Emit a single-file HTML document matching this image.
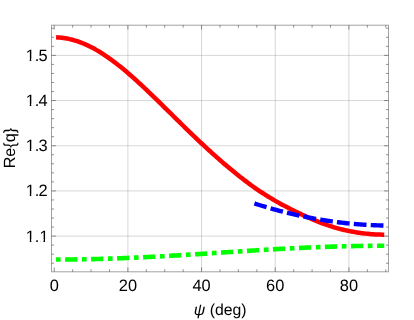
<!DOCTYPE html>
<html><head><meta charset="utf-8"><title>plot</title>
<style>html,body{margin:0;padding:0;background:#fff;width:414px;height:320px;overflow:hidden;font-family:"Liberation Sans",sans-serif;}</style>
</head><body>
<svg width="414" height="320" viewBox="0 0 414 320" style="position:absolute;left:0;top:0;will-change:transform;opacity:0.999">
<rect x="0" y="0" width="414" height="320" fill="#fff"/>
<g stroke="#909090" stroke-width="0.36" fill="none"><line x1="127.90" y1="25.20" x2="127.90" y2="271.80"/><line x1="201.57" y1="25.20" x2="201.57" y2="271.80"/><line x1="275.24" y1="25.20" x2="275.24" y2="271.80"/><line x1="348.91" y1="25.20" x2="348.91" y2="271.80"/><line x1="51.50" y1="236.10" x2="388.50" y2="236.10"/><line x1="51.50" y1="190.92" x2="388.50" y2="190.92"/><line x1="51.50" y1="145.74" x2="388.50" y2="145.74"/><line x1="51.50" y1="100.56" x2="388.50" y2="100.56"/><line x1="51.50" y1="55.38" x2="388.50" y2="55.38"/></g>
<path d="M56.07,37.37 L57.90,37.44 L59.72,37.56 L61.54,37.74 L63.37,37.96 L65.19,38.23 L67.01,38.55 L68.84,38.91 L70.66,39.33 L72.48,39.79 L74.31,40.30 L76.13,40.86 L77.95,41.46 L79.78,42.10 L81.60,42.80 L83.42,43.53 L85.25,44.31 L87.07,45.14 L88.89,46.00 L90.72,46.91 L92.54,47.86 L94.36,48.84 L96.19,49.87 L98.01,50.93 L99.83,52.04 L101.66,53.18 L103.48,54.35 L105.30,55.56 L107.13,56.80 L108.95,58.08 L110.77,59.38 L112.60,60.72 L114.42,62.09 L116.24,63.48 L118.07,64.91 L119.89,66.36 L121.71,67.83 L123.54,69.33 L125.36,70.85 L127.18,72.40 L129.01,73.97 L130.83,75.56 L132.65,77.16 L134.48,78.79 L136.30,80.43 L138.12,82.09 L139.95,83.77 L141.77,85.46 L143.59,87.16 L145.42,88.88 L147.24,90.61 L149.06,92.34 L150.89,94.09 L152.71,95.85 L154.53,97.61 L156.36,99.38 L158.18,101.16 L160.00,102.95 L161.83,104.73 L163.65,106.53 L165.47,108.32 L167.30,110.12 L169.12,111.91 L170.94,113.71 L172.77,115.51 L174.59,117.31 L176.41,119.10 L178.24,120.90 L180.06,122.69 L181.88,124.48 L183.71,126.26 L185.53,128.04 L187.35,129.81 L189.18,131.58 L191.00,133.34 L192.82,135.10 L194.65,136.84 L196.47,138.58 L198.29,140.31 L200.12,142.04 L201.94,143.75 L203.76,145.45 L205.59,147.14 L207.41,148.83 L209.23,150.50 L211.06,152.16 L212.88,153.80 L214.70,155.44 L216.53,157.06 L218.35,158.68 L220.17,160.27 L222.00,161.86 L223.82,163.43 L225.64,164.99 L227.47,166.53 L229.29,168.06 L231.11,169.57 L232.94,171.07 L234.76,172.55 L236.58,174.02 L238.41,175.48 L240.23,176.91 L242.05,178.34 L243.87,179.74 L245.70,181.13 L247.52,182.50 L249.34,183.86 L251.17,185.20 L252.99,186.52 L254.81,187.81 L256.64,189.08 L258.46,190.33 L260.28,191.55 L262.11,192.75 L263.93,193.93 L265.75,195.09 L267.58,196.23 L269.40,197.34 L271.22,198.44 L273.05,199.52 L274.87,200.58 L276.69,201.62 L278.52,202.65 L280.34,203.66 L282.16,204.66 L283.99,205.64 L285.81,206.61 L287.63,207.56 L289.46,208.50 L291.28,209.43 L293.10,210.34 L294.93,211.25 L296.75,212.14 L298.57,213.02 L300.40,213.89 L302.22,214.75 L304.04,215.59 L305.87,216.42 L307.69,217.24 L309.51,218.05 L311.34,218.84 L313.16,219.62 L314.98,220.39 L316.81,221.13 L318.63,221.87 L320.45,222.58 L322.28,223.28 L324.10,223.95 L325.92,224.61 L327.75,225.25 L329.57,225.87 L331.39,226.46 L333.22,227.04 L335.04,227.58 L336.86,228.11 L338.69,228.61 L340.51,229.09 L342.33,229.55 L344.16,229.98 L345.98,230.38 L347.80,230.77 L349.63,231.14 L351.45,231.49 L353.27,231.82 L355.10,232.13 L356.92,232.43 L358.74,232.70 L360.57,232.96 L362.39,233.21 L364.21,233.43 L366.04,233.63 L367.86,233.82 L369.68,233.99 L371.51,234.14 L373.33,234.27 L375.15,234.39 L376.98,234.48 L378.80,234.56 L380.62,234.62 L382.45,234.66 L384.27,234.68" fill="none" stroke="#ff0000" stroke-width="4.5" stroke-linecap="butt" stroke-linejoin="round"/>
<path d="M254.40,203.45 L256.02,203.97 L257.63,204.48 L259.25,204.99 L260.87,205.49 L262.48,205.98 L264.10,206.47 L265.71,206.95 L267.33,207.43 L268.95,207.90 L270.56,208.36 L272.18,208.82 L273.80,209.27 L275.41,209.71 L277.03,210.15 L278.64,210.59 L280.26,211.01 L281.88,211.43 L283.49,211.85 L285.11,212.25 L286.73,212.66 L288.34,213.05 L289.96,213.44 L291.57,213.82 L293.19,214.20 L294.81,214.57 L296.42,214.94 L298.04,215.30 L299.65,215.65 L301.27,216.00 L302.89,216.34 L304.50,216.67 L306.12,217.00 L307.74,217.32 L309.35,217.64 L310.97,217.95 L312.58,218.25 L314.20,218.55 L315.82,218.84 L317.43,219.12 L319.05,219.40 L320.67,219.67 L322.28,219.94 L323.90,220.20 L325.51,220.46 L327.13,220.70 L328.75,220.95 L330.36,221.18 L331.98,221.41 L333.60,221.63 L335.21,221.85 L336.83,222.06 L338.44,222.27 L340.06,222.47 L341.68,222.66 L343.29,222.85 L344.91,223.03 L346.53,223.20 L348.14,223.37 L349.76,223.53 L351.38,223.69 L352.99,223.84 L354.61,223.98 L356.22,224.12 L357.84,224.25 L359.46,224.37 L361.07,224.49 L362.69,224.61 L364.31,224.71 L365.92,224.81 L367.54,224.91 L369.15,224.99 L370.77,225.08 L372.39,225.15 L374.00,225.22 L375.62,225.29 L377.24,225.34 L378.85,225.39 L380.47,225.44 L382.08,225.48 L383.70,225.51" fill="none" stroke="#0000ff" stroke-width="4.4" stroke-dasharray="12.75 4.2" stroke-linecap="butt"/>
<path d="M55.92,259.57 L57.75,259.56 L59.57,259.56 L61.40,259.55 L63.22,259.54 L65.05,259.53 L66.87,259.52 L68.69,259.50 L70.52,259.49 L72.34,259.47 L74.17,259.45 L75.99,259.42 L77.81,259.40 L79.64,259.37 L81.46,259.34 L83.29,259.31 L85.11,259.27 L86.93,259.24 L88.76,259.20 L90.58,259.16 L92.41,259.12 L94.23,259.08 L96.06,259.03 L97.88,258.99 L99.70,258.94 L101.53,258.89 L103.35,258.83 L105.18,258.78 L107.00,258.72 L108.82,258.66 L110.65,258.60 L112.47,258.54 L114.30,258.48 L116.12,258.41 L117.95,258.35 L119.77,258.28 L121.59,258.21 L123.42,258.14 L125.24,258.06 L127.07,257.99 L128.89,257.91 L130.71,257.83 L132.54,257.75 L134.36,257.67 L136.19,257.59 L138.01,257.50 L139.84,257.42 L141.66,257.33 L143.48,257.24 L145.31,257.15 L147.13,257.06 L148.96,256.97 L150.78,256.87 L152.60,256.78 L154.43,256.68 L156.25,256.58 L158.08,256.48 L159.90,256.38 L161.73,256.28 L163.55,256.18 L165.37,256.08 L167.20,255.97 L169.02,255.87 L170.85,255.76 L172.67,255.66 L174.49,255.55 L176.32,255.44 L178.14,255.33 L179.97,255.22 L181.79,255.11 L183.61,254.99 L185.44,254.88 L187.26,254.77 L189.09,254.65 L190.91,254.54 L192.74,254.42 L194.56,254.31 L196.38,254.19 L198.21,254.08 L200.03,253.96 L201.86,253.84 L203.68,253.72 L205.50,253.61 L207.33,253.49 L209.15,253.37 L210.98,253.25 L212.80,253.13 L214.63,253.01 L216.45,252.89 L218.27,252.77 L220.10,252.65 L221.92,252.53 L223.75,252.41 L225.57,252.30 L227.39,252.18 L229.22,252.06 L231.04,251.94 L232.87,251.82 L234.69,251.70 L236.52,251.58 L238.34,251.47 L240.16,251.35 L241.99,251.23 L243.81,251.11 L245.64,251.00 L247.46,250.88 L249.28,250.77 L251.11,250.65 L252.93,250.54 L254.76,250.43 L256.58,250.31 L258.41,250.20 L260.23,250.09 L262.05,249.98 L263.88,249.87 L265.70,249.76 L267.53,249.65 L269.35,249.55 L271.17,249.44 L273.00,249.33 L274.82,249.23 L276.65,249.13 L278.47,249.02 L280.29,248.92 L282.12,248.82 L283.94,248.73 L285.77,248.63 L287.59,248.53 L289.42,248.44 L291.24,248.34 L293.06,248.25 L294.89,248.16 L296.71,248.07 L298.54,247.98 L300.36,247.89 L302.18,247.81 L304.01,247.72 L305.83,247.64 L307.66,247.56 L309.48,247.48 L311.31,247.40 L313.13,247.32 L314.95,247.25 L316.78,247.18 L318.60,247.10 L320.43,247.03 L322.25,246.97 L324.07,246.90 L325.90,246.83 L327.72,246.77 L329.55,246.71 L331.37,246.65 L333.20,246.59 L335.02,246.54 L336.84,246.48 L338.67,246.43 L340.49,246.38 L342.32,246.33 L344.14,246.28 L345.96,246.24 L347.79,246.19 L349.61,246.15 L351.44,246.11 L353.26,246.08 L355.09,246.04 L356.91,246.01 L358.73,245.98 L360.56,245.95 L362.38,245.92 L364.21,245.90 L366.03,245.87 L367.85,245.85 L369.68,245.83 L371.50,245.82 L373.33,245.80 L375.15,245.79 L376.97,245.78 L378.80,245.77 L380.62,245.76 L382.45,245.76 L384.27,245.75" fill="none" stroke="#00ff00" stroke-width="4.6" stroke-dasharray="4.7 4.45 12.3 4.57" stroke-linecap="butt"/>
<rect x="51.50" y="25.20" width="337.00" height="246.60" fill="none" stroke="#a2a2a2" stroke-width="1"/>
<g stroke="#484848" stroke-width="0.6" fill="none"><line x1="54.23" y1="271.80" x2="54.23" y2="267.40"/><line x1="54.23" y1="25.20" x2="54.23" y2="29.60"/><line x1="72.65" y1="271.80" x2="72.65" y2="269.30"/><line x1="72.65" y1="25.20" x2="72.65" y2="27.70"/><line x1="91.06" y1="271.80" x2="91.06" y2="269.30"/><line x1="91.06" y1="25.20" x2="91.06" y2="27.70"/><line x1="109.48" y1="271.80" x2="109.48" y2="269.30"/><line x1="109.48" y1="25.20" x2="109.48" y2="27.70"/><line x1="127.90" y1="271.80" x2="127.90" y2="267.40"/><line x1="127.90" y1="25.20" x2="127.90" y2="29.60"/><line x1="146.32" y1="271.80" x2="146.32" y2="269.30"/><line x1="146.32" y1="25.20" x2="146.32" y2="27.70"/><line x1="164.73" y1="271.80" x2="164.73" y2="269.30"/><line x1="164.73" y1="25.20" x2="164.73" y2="27.70"/><line x1="183.15" y1="271.80" x2="183.15" y2="269.30"/><line x1="183.15" y1="25.20" x2="183.15" y2="27.70"/><line x1="201.57" y1="271.80" x2="201.57" y2="267.40"/><line x1="201.57" y1="25.20" x2="201.57" y2="29.60"/><line x1="219.99" y1="271.80" x2="219.99" y2="269.30"/><line x1="219.99" y1="25.20" x2="219.99" y2="27.70"/><line x1="238.41" y1="271.80" x2="238.41" y2="269.30"/><line x1="238.41" y1="25.20" x2="238.41" y2="27.70"/><line x1="256.82" y1="271.80" x2="256.82" y2="269.30"/><line x1="256.82" y1="25.20" x2="256.82" y2="27.70"/><line x1="275.24" y1="271.80" x2="275.24" y2="267.40"/><line x1="275.24" y1="25.20" x2="275.24" y2="29.60"/><line x1="293.66" y1="271.80" x2="293.66" y2="269.30"/><line x1="293.66" y1="25.20" x2="293.66" y2="27.70"/><line x1="312.08" y1="271.80" x2="312.08" y2="269.30"/><line x1="312.08" y1="25.20" x2="312.08" y2="27.70"/><line x1="330.49" y1="271.80" x2="330.49" y2="269.30"/><line x1="330.49" y1="25.20" x2="330.49" y2="27.70"/><line x1="348.91" y1="271.80" x2="348.91" y2="267.40"/><line x1="348.91" y1="25.20" x2="348.91" y2="29.60"/><line x1="367.33" y1="271.80" x2="367.33" y2="269.30"/><line x1="367.33" y1="25.20" x2="367.33" y2="27.70"/><line x1="385.75" y1="271.80" x2="385.75" y2="269.30"/><line x1="385.75" y1="25.20" x2="385.75" y2="27.70"/><line x1="51.50" y1="263.21" x2="54.00" y2="263.21"/><line x1="388.50" y1="263.21" x2="386.00" y2="263.21"/><line x1="51.50" y1="254.17" x2="54.00" y2="254.17"/><line x1="388.50" y1="254.17" x2="386.00" y2="254.17"/><line x1="51.50" y1="245.14" x2="54.00" y2="245.14"/><line x1="388.50" y1="245.14" x2="386.00" y2="245.14"/><line x1="51.50" y1="236.10" x2="55.90" y2="236.10"/><line x1="388.50" y1="236.10" x2="384.10" y2="236.10"/><line x1="51.50" y1="227.06" x2="54.00" y2="227.06"/><line x1="388.50" y1="227.06" x2="386.00" y2="227.06"/><line x1="51.50" y1="218.03" x2="54.00" y2="218.03"/><line x1="388.50" y1="218.03" x2="386.00" y2="218.03"/><line x1="51.50" y1="208.99" x2="54.00" y2="208.99"/><line x1="388.50" y1="208.99" x2="386.00" y2="208.99"/><line x1="51.50" y1="199.96" x2="54.00" y2="199.96"/><line x1="388.50" y1="199.96" x2="386.00" y2="199.96"/><line x1="51.50" y1="190.92" x2="55.90" y2="190.92"/><line x1="388.50" y1="190.92" x2="384.10" y2="190.92"/><line x1="51.50" y1="181.88" x2="54.00" y2="181.88"/><line x1="388.50" y1="181.88" x2="386.00" y2="181.88"/><line x1="51.50" y1="172.85" x2="54.00" y2="172.85"/><line x1="388.50" y1="172.85" x2="386.00" y2="172.85"/><line x1="51.50" y1="163.81" x2="54.00" y2="163.81"/><line x1="388.50" y1="163.81" x2="386.00" y2="163.81"/><line x1="51.50" y1="154.78" x2="54.00" y2="154.78"/><line x1="388.50" y1="154.78" x2="386.00" y2="154.78"/><line x1="51.50" y1="145.74" x2="55.90" y2="145.74"/><line x1="388.50" y1="145.74" x2="384.10" y2="145.74"/><line x1="51.50" y1="136.70" x2="54.00" y2="136.70"/><line x1="388.50" y1="136.70" x2="386.00" y2="136.70"/><line x1="51.50" y1="127.67" x2="54.00" y2="127.67"/><line x1="388.50" y1="127.67" x2="386.00" y2="127.67"/><line x1="51.50" y1="118.63" x2="54.00" y2="118.63"/><line x1="388.50" y1="118.63" x2="386.00" y2="118.63"/><line x1="51.50" y1="109.60" x2="54.00" y2="109.60"/><line x1="388.50" y1="109.60" x2="386.00" y2="109.60"/><line x1="51.50" y1="100.56" x2="55.90" y2="100.56"/><line x1="388.50" y1="100.56" x2="384.10" y2="100.56"/><line x1="51.50" y1="91.52" x2="54.00" y2="91.52"/><line x1="388.50" y1="91.52" x2="386.00" y2="91.52"/><line x1="51.50" y1="82.49" x2="54.00" y2="82.49"/><line x1="388.50" y1="82.49" x2="386.00" y2="82.49"/><line x1="51.50" y1="73.45" x2="54.00" y2="73.45"/><line x1="388.50" y1="73.45" x2="386.00" y2="73.45"/><line x1="51.50" y1="64.42" x2="54.00" y2="64.42"/><line x1="388.50" y1="64.42" x2="386.00" y2="64.42"/><line x1="51.50" y1="55.38" x2="55.90" y2="55.38"/><line x1="388.50" y1="55.38" x2="384.10" y2="55.38"/><line x1="51.50" y1="46.34" x2="54.00" y2="46.34"/><line x1="388.50" y1="46.34" x2="386.00" y2="46.34"/><line x1="51.50" y1="37.31" x2="54.00" y2="37.31"/><line x1="388.50" y1="37.31" x2="386.00" y2="37.31"/><line x1="51.50" y1="28.27" x2="54.00" y2="28.27"/><line x1="388.50" y1="28.27" x2="386.00" y2="28.27"/></g>
<g style="font-family:'Liberation Sans',sans-serif;text-rendering:geometricPrecision" font-size="16.4" fill="#000">
<clipPath id="c1" clipPathUnits="userSpaceOnUse"><rect x="18" y="226.50" width="32" height="12.67"/><rect x="29.78" y="239.12" width="1.55" height="3.6"/><rect x="34.12" y="239.12" width="6.41" height="3.6"/><rect x="43.45" y="239.12" width="1.55" height="3.6"/></clipPath>
<text y="241.50" clip-path="url(#c1)"><tspan x="25.70">1.</tspan><tspan x="39.38">1</tspan></text>
<clipPath id="c2" clipPathUnits="userSpaceOnUse"><rect x="18" y="181.32" width="32" height="12.67"/><rect x="29.73" y="193.94" width="1.55" height="3.6"/><rect x="34.07" y="193.94" width="15.93" height="3.6"/></clipPath>
<text y="196.32" clip-path="url(#c2)"><tspan x="25.65">1.</tspan><tspan x="38.38">2</tspan></text>
<clipPath id="c3" clipPathUnits="userSpaceOnUse"><rect x="18" y="136.14" width="32" height="12.67"/><rect x="29.73" y="148.76" width="1.55" height="3.6"/><rect x="34.07" y="148.76" width="15.93" height="3.6"/></clipPath>
<text y="151.14" clip-path="url(#c3)"><tspan x="25.65">1.</tspan><tspan x="38.38">3</tspan></text>
<clipPath id="c4" clipPathUnits="userSpaceOnUse"><rect x="18" y="90.96" width="32" height="12.67"/><rect x="29.73" y="103.58" width="1.55" height="3.6"/><rect x="34.07" y="103.58" width="15.93" height="3.6"/></clipPath>
<text y="105.96" clip-path="url(#c4)"><tspan x="25.65">1.</tspan><tspan x="38.38">4</tspan></text>
<clipPath id="c5" clipPathUnits="userSpaceOnUse"><rect x="18" y="45.78" width="32" height="12.67"/><rect x="29.73" y="58.40" width="1.55" height="3.6"/><rect x="34.07" y="58.40" width="15.93" height="3.6"/></clipPath>
<text y="60.78" clip-path="url(#c5)"><tspan x="25.65">1.</tspan><tspan x="38.38">5</tspan></text>
<text x="54.23" y="290.8" text-anchor="middle">0</text>
<text x="127.90" y="290.8" text-anchor="middle">20</text>
<text x="201.57" y="290.8" text-anchor="middle">40</text>
<text x="275.24" y="290.8" text-anchor="middle">60</text>
<text x="348.91" y="290.8" text-anchor="middle">80</text>
<text x="220.2" y="315" font-size="15.8" text-anchor="middle"><tspan font-style="italic">ψ</tspan> (deg)</text>
<text transform="translate(15.0,148.1) rotate(-90)" font-size="16.2" text-anchor="middle">Re{q}</text>
</g>
</svg>
</body></html>
